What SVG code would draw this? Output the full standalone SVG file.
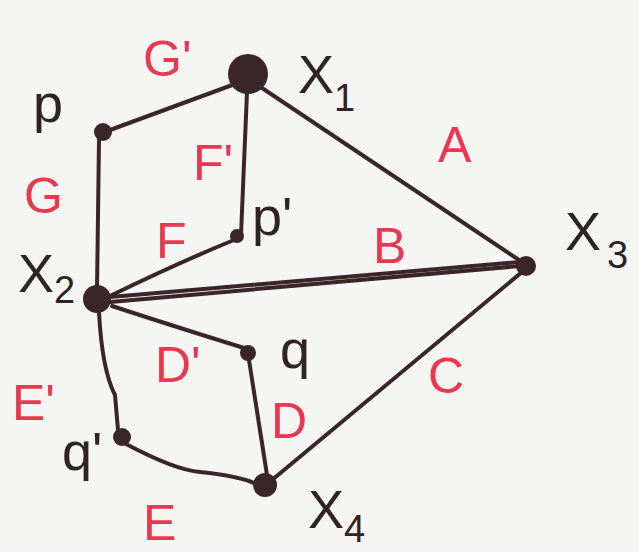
<svg xmlns="http://www.w3.org/2000/svg" width="639" height="552" viewBox="0 0 639 552">
  <style>
    .edge { fill: none; stroke: #3a2628; stroke-width: 4; stroke-linecap: round; stroke-linejoin: round; }
    .dot { fill: #3a2628; }
    .lab { font-family: "Liberation Sans", Arial, sans-serif; fill: #e8374f; font-size: 50px; }
    .name { font-family: "Liberation Sans", Arial, sans-serif; fill: #2f2325; font-size: 54px; }
    .sub { font-family: "Liberation Sans", Arial, sans-serif; fill: #2f2325; font-size: 38px; }
  </style>
  <rect width="639" height="552" fill="#f5f5f3"/>
  <g id="connectors">
    <path class="edge" d="M110,130 L235,84"/>
    <path class="edge" d="M99,140 L97,290"/>
    <path class="edge" d="M247,92 L241,235"/>
    <path class="edge" d="M234,240 Q180,262 110,296"/>
    <path class="edge" d="M262,88 L522,262"/>
    <path class="edge" d="M110,297 L520,262"/>
    <path class="edge" d="M110,302 L520,266" stroke-width="3"/>
    <path class="edge" d="M522,272 L272,480"/>
    <path class="edge" d="M112,306 Q170,325 244,348"/>
    <path class="edge" d="M249,360 L267,475"/>
    <path class="edge" d="M99,312 Q102,370 115,395 L118,430"/>
    <path class="edge" d="M126,444 Q175,470 200,472 Q240,476 256,484"/>
  </g>
  <g id="X1"><circle class="dot" cx="248" cy="74" r="20"/><text class="name" x="298" y="93">X<tspan class="sub" dy="18">1</tspan></text></g>
  <g id="p"><circle class="dot" cx="103" cy="132" r="9"/><text class="name" x="33" y="122">p</text></g>
  <g id="p_prime"><circle class="dot" cx="237" cy="236" r="7"/><text class="name" x="252" y="235">p'</text></g>
  <g id="X2"><circle class="dot" cx="97" cy="299" r="14"/><text class="name" x="18" y="292">X<tspan class="sub" dy="11">2</tspan></text></g>
  <g id="X3"><circle class="dot" cx="526" cy="266" r="10"/><text class="name" x="565" y="250">X<tspan class="sub" dx="6" dy="18">3</tspan></text></g>
  <g id="q"><circle class="dot" cx="248" cy="353" r="8"/><text class="name" x="280" y="368">q</text></g>
  <g id="q_prime"><circle class="dot" cx="122" cy="437" r="9"/><text class="name" x="62" y="470">q'</text></g>
  <g id="X4"><circle class="dot" cx="265" cy="485" r="12"/><text class="name" x="308" y="528">X<tspan class="sub" dy="14">4</tspan></text></g>
  <g id="edge-labels">
    <text class="lab" x="143" y="76">G'</text>
    <text class="lab" x="193" y="180">F'</text>
    <text class="lab" x="24" y="213">G</text>
    <text class="lab" x="156" y="258">F</text>
    <text class="lab" x="438" y="162">A</text>
    <text class="lab" x="373" y="263">B</text>
    <text class="lab" x="428" y="393">C</text>
    <text class="lab" x="155" y="382">D'</text>
    <text class="lab" x="271" y="438">D</text>
    <text class="lab" x="12" y="420">E'</text>
    <text class="lab" x="143" y="540">E</text>
  </g>
</svg>
